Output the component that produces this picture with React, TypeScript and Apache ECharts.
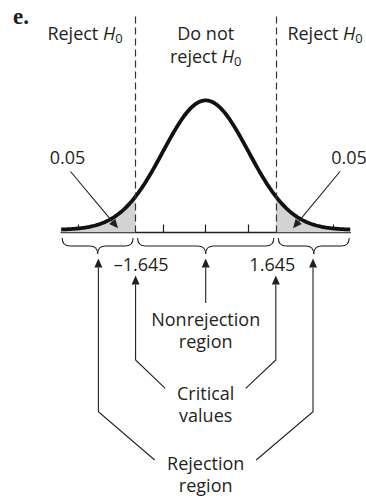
import React, { useEffect, useRef } from "react";
import * as echarts from "echarts";

// ---- data ----
const xDomain = [-3.39, 3.39];
const criticalValues = [-1.645, 1.645];
const tickValues = [-3, -2, -1, 0, 1, 2, 3];
const tailAreaLabels = ["0.05", "0.05"];
const criticalLabels = ["\u20131.645", "1.645"];
const curveOffset = 0.008; // the drawn curve sits slightly above the axis
const yMax = 0.6764;
const sampleCount = 300;

// theoretical standard normal density (the curve of the diagram)
function normalPdf(z: number) {
  return Math.exp((-z * z) / 2) / Math.sqrt(2 * Math.PI);
}
function sampleRange(a: number, b: number, n: number) {
  const out: number[][] = [];
  for (let i = 0; i <= n; i++) {
    const z = a + ((b - a) * i) / n;
    out.push([z, normalPdf(z) + curveOffset]);
  }
  return out;
}
const curveData = sampleRange(xDomain[0], xDomain[1], sampleCount);
const leftTail = sampleRange(xDomain[0], criticalValues[0], 80);
const rightTail = sampleRange(criticalValues[1], xDomain[1], 80);

const INK = "#231f20";
const FONT = "'Open Sans', 'Noto Sans', sans-serif";

const richStyles = {
  n: { fontSize: 18, fontFamily: FONT, color: INK, lineHeight: 23 },
  i: { fontSize: 18, fontFamily: FONT, color: INK, lineHeight: 23, fontStyle: "italic" },
  s: { fontSize: 13, fontFamily: FONT, color: INK, lineHeight: 13, verticalAlign: "bottom" },
};

export default function App() {
  const ref = useRef<HTMLDivElement>(null);
  useEffect(() => {
    const el = ref.current!;
    const chart = echarts.init(el, null, { renderer: "svg" });
    chart.setOption({
      animation: false,
      grid: { left: 61.2, top: 13, width: 289, height: 219.5 },
      xAxis: {
        type: "value",
        min: xDomain[0],
        max: xDomain[1],
        axisLine: { show: true, onZero: false, lineStyle: { color: INK, width: 1.3 } },
        axisTick: {
          show: true,
          inside: true,
          length: 8,
          customValues: tickValues,
          lineStyle: { color: INK, width: 1.2 },
        },
        axisLabel: { show: false },
        splitLine: { show: false },
      },
      yAxis: {
        type: "value",
        min: 0,
        max: yMax,
        show: false,
        splitLine: { show: false },
      },
      series: [
        {
          type: "line",
          data: leftTail,
          symbol: "none",
          lineStyle: { width: 0 },
          areaStyle: { color: "#d1d3d4", opacity: 1 },
          z: 1,
          silent: true,
        },
        {
          type: "line",
          data: rightTail,
          symbol: "none",
          lineStyle: { width: 0 },
          areaStyle: { color: "#d1d3d4", opacity: 1 },
          z: 1,
          silent: true,
        },
        {
          type: "line",
          data: curveData,
          symbol: "none",
          lineStyle: { color: "#111", width: 3.8 },
          z: 3,
          silent: true,
          markLine: {
            silent: true,
            symbol: ["none", "none"],
            label: { show: false },
            lineStyle: { color: "#333", width: 1.2, type: [7, 4] },
            data: criticalValues.map((v) => ({ xAxis: v })),
          },
        },
      ],
    });

    const P = (x: number, y = 0) => chart.convertToPixel({ gridIndex: 0 }, [x, y]) as number[];
    const axisY = P(0, 0)[1];
    const xc = P(0)[0];
    const xl = P(criticalValues[0])[0];
    const xr = P(criticalValues[1])[0];
    const x0 = P(xDomain[0])[0];
    const x1 = P(xDomain[1])[0];
    const leftMid = (x0 + xl) / 2;
    const rightMid = (xr + x1) / 2;

    const els: any[] = [];
    const lineStyle = { stroke: INK, lineWidth: 1.1, fill: null };

    const head = (tx: number, ty: number, fx: number, fy: number, len = 9, hw = 4) => {
      const dx = tx - fx, dy = ty - fy;
      const d = Math.hypot(dx, dy);
      const ux = dx / d, uy = dy / d;
      const bx = tx - ux * len, by = ty - uy * len;
      els.push({
        type: "polygon",
        z: 100,
        shape: { points: [[tx, ty], [bx - uy * hw, by + ux * hw], [bx + uy * hw, by - ux * hw]] },
        style: { fill: INK },
      });
      return [bx, by];
    };
    // arrow along polyline: points from tail to tip
    const arrow = (pts: number[][]) => {
      const n = pts.length;
      const [bx, by] = head(pts[n - 1][0], pts[n - 1][1], pts[n - 2][0], pts[n - 2][1]);
      const linePts = pts.slice(0, n - 1).concat([[bx, by]]);
      els.push({ type: "polyline", z: 100, shape: { points: linePts }, style: { ...lineStyle } });
    };
    const brace = (a: number, b: number, y: number, h = 8) => {
      const m = (a + b) / 2;
      const st = { ...lineStyle, lineWidth: 1.1 };
      els.push({ type: "bezierCurve", z: 100, shape: { x1: a, y1: y, cpx1: a, cpy1: y + h, x2: a + h, y2: y + h }, style: st });
      els.push({ type: "line", z: 100, shape: { x1: a + h, y1: y + h, x2: m - h, y2: y + h }, style: st });
      els.push({ type: "bezierCurve", z: 100, shape: { x1: m - h, y1: y + h, cpx1: m, cpy1: y + h, x2: m, y2: y + 2 * h }, style: st });
      els.push({ type: "bezierCurve", z: 100, shape: { x1: m, y1: y + 2 * h, cpx1: m, cpy1: y + h, x2: m + h, y2: y + h }, style: st });
      els.push({ type: "line", z: 100, shape: { x1: m + h, y1: y + h, x2: b - h, y2: y + h }, style: st });
      els.push({ type: "bezierCurve", z: 100, shape: { x1: b - h, y1: y + h, cpx1: b, cpy1: y + h, x2: b, y2: y }, style: st });
    };
    const text = (x: number, y: number, t: string, extra: any = {}) => {
      els.push({
        type: "text",
        z: 100,
        x,
        y,
        style: {
          text: t,
          fill: INK,
          fontSize: 18,
          fontFamily: FONT,
          lineHeight: 22,
          align: "center",
          verticalAlign: "middle",
          ...extra,
        },
      });
    };

    // panel letter
    els.push({
      type: "text",
      z: 100,
      x: 13,
      y: 16,
      style: {
        text: "e.",
        fill: INK,
        fontSize: 23,
        fontWeight: "bold",
        fontFamily: "'Liberation Serif', 'DejaVu Serif', serif",
        align: "left",
        verticalAlign: "middle",
      },
    });

    // region headers
    text(85, 33, "{n|Reject }{i|H}{s|0}", { rich: richStyles });
    text(xc, 44.5, "{n|Do not}\n{n|reject }{i|H}{s|0}", { rich: richStyles });
    text(325, 33, "{n|Reject }{i|H}{s|0}", { rich: richStyles });

    // tail area labels and arrows
    text(67.5, 157.3, tailAreaLabels[0]);
    text(349, 157.3, tailAreaLabels[1]);
    arrow([[70.5, 171.5], [118, 228.3]]);
    arrow([[340, 171.5], [293, 228.3]]);

    // braces
    const by = axisY + 5.5;
    brace(x0 + 1, xl - 2.5, by);
    brace(xl + 2, xr - 2, by);
    brace(xr + 2.5, x1 - 1, by);

    // critical value labels
    text(xl + 5.5, axisY + 31.5, criticalLabels[0]);
    text(xr - 3.5, axisY + 31.5, criticalLabels[1]);

    // nonrejection arrow
    arrow([[xc, axisY + 70.5], [xc, axisY + 26]]);
    text(xc, axisY + 97.5, "Nonrejection\nregion");

    // critical values arrows
    arrow([[xc - 40.5, 388.3], [xl, 360], [xl, axisY + 43]]);
    arrow([[xc + 40, 388.3], [xr, 360], [xr, axisY + 43]]);
    text(xc, 404, "Critical\nvalues");

    // rejection region arrows
    arrow([[xc - 51, 460], [leftMid, 411.7], [leftMid, axisY + 26]]);
    arrow([[xc + 50.5, 460], [rightMid, 411.7], [rightMid, axisY + 26]]);
    text(xc, 474, "Rejection\nregion");

    chart.setOption({ graphic: { elements: els } });

    return () => chart.dispose();
  }, []);
  return (
    <div
      ref={ref}
      style={{ position: "absolute", left: 0, top: 0, width: 366, height: 498, background: "#fff" }}
    />
  );
}
